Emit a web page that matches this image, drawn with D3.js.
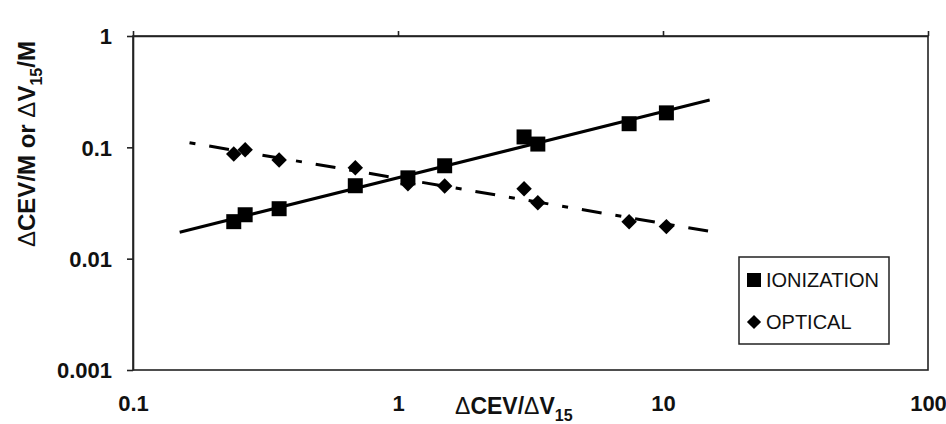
<!DOCTYPE html>
<html>
<head>
<meta charset="utf-8">
<script src="https://cdn.jsdelivr.net/npm/d3@7"></script>
<style>
  body { margin: 0; background: #fff; }
  svg { display: block; font-family: "Liberation Sans", Arial, sans-serif; }
</style>
</head>
<body>
<svg width="946" height="424"></svg>
<script>
var svg = d3.select('svg');

// values
var ratio = [0.24, 0.265, 0.356, 0.69, 1.09, 1.5, 2.99, 3.37, 7.45, 10.3];
var ionization = [0.0215, 0.0248, 0.0281, 0.0452, 0.0532, 0.0683, 0.124, 0.107, 0.163, 0.204];
var optical = [0.087, 0.095, 0.077, 0.0655, 0.047, 0.045, 0.0425, 0.0318, 0.0215, 0.0194];
var xTicks = [0.1, 1, 10, 100];
var yTicks = [0.001, 0.01, 0.1, 1];
var fitRange = [0.15, 15];

var x = d3.scaleLog().domain([0.1, 100]).range([133, 928]);
var y = d3.scaleLog().domain([0.001, 1]).range([370, 36]);

function fmt(d){
    return d >= 1 ? String(d) : d.toFixed(-Math.round(Math.log10(d)));
}

// power-law fit (least squares in log-log space), like the spreadsheet trendline
function powerFit(xs, ys){
    var lx = xs.map(Math.log10), ly = ys.map(Math.log10);
    var mx = d3.mean(lx), my = d3.mean(ly);
    var b = d3.sum(lx, function(v, i){ return (v - mx) * (ly[i] - my); }) /
            d3.sum(lx, function(v){ return (v - mx) * (v - mx); });
    var a = my - b * mx;
    return function(v){ return Math.pow(10, a + b * Math.log10(v)); };
}

// plot frame (bottom and right borders)
svg.append('rect')
    .attr('x', 133).attr('y', 36)
    .attr('width', 928 - 133).attr('height', 370 - 36)
    .attr('fill', 'none')
    .attr('stroke', '#222')
    .attr('stroke-width', 1.6);

// top axis with ticks, no labels
svg.append('g')
    .attr('transform', 'translate(0,36)')
    .call(d3.axisTop(x).tickValues(xTicks).tickSize(5).tickSizeOuter(0).tickFormat(''));

// labels of x at the bottom
var bottom = svg.append('g')
    .attr('transform', 'translate(0,370)')
    .call(d3.axisBottom(x).tickValues(xTicks).tickSize(0).tickPadding(25).tickFormat(fmt));
bottom.select('.domain').remove();

var left = svg.append('g')
    .attr('transform', 'translate(133,0)')
    .call(d3.axisLeft(y).tickValues(yTicks).tickSize(6).tickSizeOuter(0).tickPadding(15).tickFormat(fmt));

svg.selectAll('.domain, .tick line')
    .attr('stroke', '#222')
    .attr('stroke-width', 1.6);
svg.selectAll('.tick text')
    .attr('font-family', '"Liberation Sans Narrow", "Arial Narrow", "Liberation Sans", sans-serif')
    .attr('font-size', 22)
    .attr('font-weight', 'bold')
    .attr('fill', '#111');
left.selectAll('.tick text').attr('dy', '0.36em');

// trend lines
var fits = [
    {f: powerFit(ratio, ionization), dash: null},
    {f: powerFit(ratio, optical), dash: '6,14,20,14'}
];
var line = d3.line()
    .x(function(d){ return x(d[0]); })
    .y(function(d){ return y(d[1]); });

fits.forEach(function(t){
    svg.append('path')
        .datum(fitRange.map(function(v){ return [v, t.f(v)]; }))
        .attr('d', line)
        .attr('fill', 'none')
        .attr('stroke', '#000')
        .attr('stroke-width', 3)
        .attr('stroke-dasharray', t.dash)
        .attr('stroke-dashoffset', t.dash ? -10 : null);
});

// markers
var square = d3.symbol().type(d3.symbolSquare).size(225);
var diamond = d3.symbol().type(d3.symbolSquare).size(120);

svg.selectAll('path.ion')
    .data(ratio)
    .enter()
    .append('path')
    .attr('class', 'ion')
    .attr('d', square)
    .attr('transform', function(d, i){
        return 'translate(' + x(d) + ',' + y(ionization[i]) + ')';
    })
    .attr('fill', '#000');

svg.selectAll('path.opt')
    .data(ratio)
    .enter()
    .append('path')
    .attr('class', 'opt')
    .attr('d', diamond)
    .attr('transform', function(d, i){
        return 'translate(' + x(d) + ',' + y(optical[i]) + ') rotate(45)';
    })
    .attr('fill', '#000');

// legend
var legend = svg.append('g');
legend.append('rect')
    .attr('x', 739).attr('y', 257)
    .attr('width', 150).attr('height', 87)
    .attr('fill', '#fff')
    .attr('stroke', '#222')
    .attr('stroke-width', 1.5);
legend.append('path')
    .attr('d', d3.symbol().type(d3.symbolSquare).size(196))
    .attr('transform', 'translate(754,280)');
legend.append('path')
    .attr('d', d3.symbol().type(d3.symbolSquare).size(100))
    .attr('transform', 'translate(754,322) rotate(45)');
legend.append('text')
    .attr('x', 766).attr('y', 287)
    .attr('font-size', 20)
    .attr('fill', '#111')
    .text('IONIZATION');
legend.append('text')
    .attr('x', 766).attr('y', 329)
    .attr('font-size', 20)
    .attr('fill', '#111')
    .text('OPTICAL');

// axis titles
var xt = svg.append('text')
    .attr('x', 455).attr('y', 414)
    .attr('font-size', 23)
    .attr('font-weight', 'bold')
    .attr('fill', '#111');
xt.append('tspan').attr('font-weight', 'normal').text('\u0394');
xt.append('tspan').text('CEV/');
xt.append('tspan').attr('font-weight', 'normal').text('\u0394');
xt.append('tspan').text('V');
xt.append('tspan').attr('font-size', 16).attr('dy', 7).text('15');

var yt = svg.append('text')
    .attr('transform', 'translate(35,247) rotate(-90)')
    .attr('font-size', 24)
    .attr('font-weight', 'bold')
    .attr('fill', '#111');
yt.append('tspan').attr('font-weight', 'normal').text('\u0394');
yt.append('tspan').text('CEV/M or ');
yt.append('tspan').attr('font-weight', 'normal').text('\u0394');
yt.append('tspan').text('V');
yt.append('tspan').attr('font-size', 16).attr('dy', 7).text('15');
yt.append('tspan').attr('dy', -7).text('/M');
</script>
</body>
</html>
